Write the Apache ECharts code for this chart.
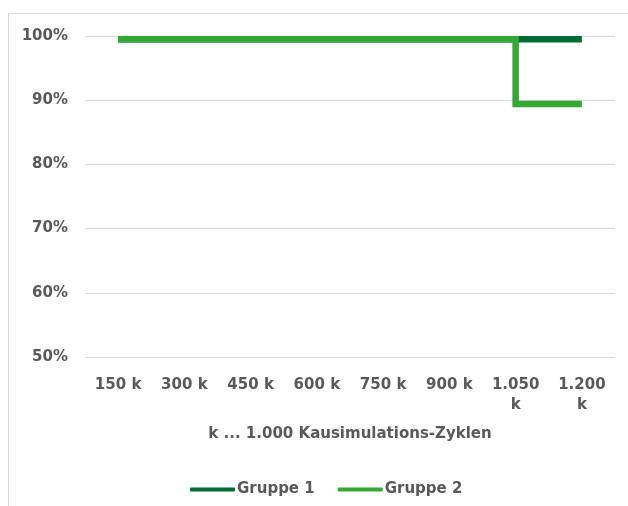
<!DOCTYPE html>
<html>
<head>
<meta charset="utf-8">
<script src="https://cdn.jsdelivr.net/npm/echarts@6/dist/echarts.min.js"></script>
<style>
  html, body { margin: 0; padding: 0; background: #fff; }
  #chart { width: 628px; height: 506px; }
</style>
</head>
<body>
<div id="chart"></div>
<script>
// Simulation cycles (thousands) and share of intact samples per group
const categories = ['150 k', '300 k', '450 k', '600 k', '750 k', '900 k', '1.050\nk', '1.200\nk'];
const gruppe1 = [99.5, 99.5, 99.5, 99.5, 99.5, 99.5, 99.5, 99.5];
const gruppe2 = [99.5, 99.5, 99.5, 99.5, 99.5, 99.5, 89.4, 89.4];
const yTicks = { min: 50, max: 100, interval: 10 };
const axisTitle = 'k ... 1.000 Kausimulations-Zyklen';

const FONT = '"DejaVu Sans", Verdana, sans-serif';
const TEXT = '#595959';

const chart = echarts.init(document.getElementById('chart'), null, { renderer: 'canvas' });
chart.setOption({
  animation: false,
  backgroundColor: '#ffffff',
  graphic: [{
    type: 'rect',
    shape: { x: 8.5, y: 13.5, width: 700, height: 600 },
    style: { fill: 'none', stroke: '#d9d9d9', lineWidth: 1 },
    silent: true
  }],
  grid: { left: 85, right: 13, top: 36, bottom: 149, containLabel: false },
  legend: {
    bottom: 4,
    left: 185,
    itemWidth: 45,
    itemHeight: 4,
    itemGap: 23,
    icon: 'roundRect',
    textStyle: { fontFamily: FONT, fontSize: 15, fontWeight: 'bold', color: TEXT, padding: [0, 0, 0, -3] },
    data: ['Gruppe 1', 'Gruppe 2']
  },
  xAxis: {
    type: 'category',
    data: categories,
    boundaryGap: true,
    name: axisTitle,
    nameLocation: 'middle',
    nameGap: 70,
    nameTextStyle: { fontFamily: FONT, fontSize: 15, fontWeight: 'bold', color: TEXT },
    axisLine: { show: false },
    axisTick: { show: false },
    axisLabel: {
      interval: 0,
      margin: 18,
      fontFamily: FONT, fontSize: 15, fontWeight: 'bold', color: TEXT,
      lineHeight: 20
    }
  },
  yAxis: {
    type: 'value',
    min: yTicks.min,
    max: yTicks.max,
    interval: yTicks.interval,
    axisLine: { show: false },
    axisTick: { show: false },
    splitLine: { lineStyle: { color: '#d9d9d9', width: 1 } },
    axisLabel: {
      margin: 17,
      formatter: v => v + '%',
      fontFamily: FONT, fontSize: 15, fontWeight: 'bold', color: TEXT
    }
  },
  series: [
    {
      name: 'Gruppe 1',
      type: 'line',
      step: 'end',
      data: gruppe1,
      showSymbol: false,
      symbol: 'none',
      color: '#006b35',
      lineStyle: { width: 6.5, color: '#006b35', cap: 'butt', join: 'miter' },
      z: 2
    },
    {
      name: 'Gruppe 2',
      type: 'line',
      step: 'end',
      data: gruppe2,
      showSymbol: false,
      symbol: 'none',
      color: '#35a833',
      lineStyle: { width: 6.5, color: '#35a833', cap: 'butt', join: 'miter' },
      z: 3
    }
  ]
});
</script>
</body>
</html>
